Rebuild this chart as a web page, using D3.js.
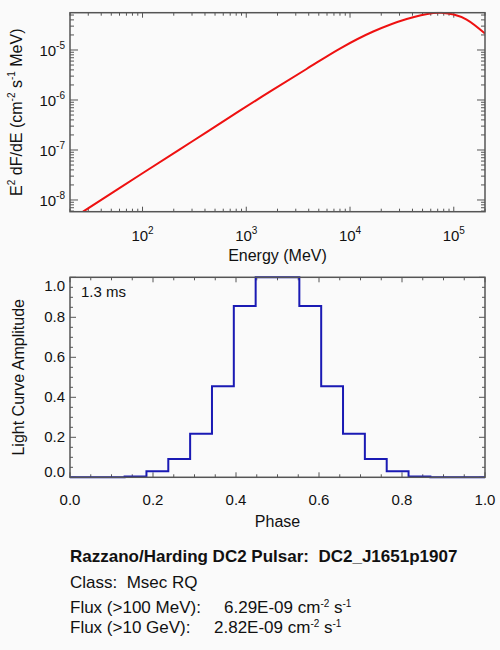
<!DOCTYPE html>
<html>
<head>
<meta charset="utf-8">
<script src="https://cdn.jsdelivr.net/npm/d3@7"></script>
<style>
  html, body { margin: 0; padding: 0; background: #fafafa; }
  svg { display: block; }
  text { font-family: "Liberation Sans", Arial, Helvetica, sans-serif; fill: #111; white-space: pre; }
</style>
</head>
<body>
<svg id="chart" width="500" height="650"></svg>
<script>
// ---------- Data ----------
// Spectrum: energy (MeV) and E^2 dF/dE (cm^-2 s^-1 MeV)
const energyMeV = [26.7, 100, 300, 867, 1815, 3811, 8000, 16750, 35200, 63400, 76000, 100000, 133000, 200000];
const e2dfde    = [5.83e-9, 3.42e-8, 1.48e-7, 6.11e-7, 1.61e-6, 4.17e-6, 1.07e-5, 2.34e-5, 4.17e-5, 5.50e-5, 5.57e-5, 5.13e-5, 4.07e-5, 2.14e-5];

// Light curve: phase bins (histogram centres) and amplitudes
const phase     = [0, 1/19, 2/19, 3/19, 4/19, 5/19, 6/19, 7/19, 8/19, 9/19, 10/19, 11/19, 12/19, 13/19, 14/19, 15/19, 16/19, 17/19, 18/19, 1];
const amplitude = [0, 0, 0, 0.004, 0.03, 0.092, 0.218, 0.455, 0.857, 1.0, 1.0, 0.857, 0.455, 0.218, 0.092, 0.03, 0.004, 0, 0, 0];

// Tick values
const specXMajor = [100, 1000, 10000, 100000];
const specXExp   = ["2", "3", "4", "5"];
const specYMajor = [1e-8, 1e-7, 1e-6, 1e-5];
const specYExp   = ["-8", "-7", "-6", "-5"];
const lcXMajor   = [0, 0.2, 0.4, 0.6, 0.8, 1.0];
const lcXLabels  = ["0.0", "0.2", "0.4", "0.6", "0.8", "1.0"];
const lcYMajor   = [0, 0.2, 0.4, 0.6, 0.8, 1.0];
const lcYLabels  = ["0.0", "0.2", "0.4", "0.6", "0.8", "1.0"];

const periodLabel = "1.3 ms";
const titleLine   = "Razzano/Harding DC2 Pulsar:  DC2_J1651p1907";
const classLine   = "Class:  Msec RQ";
const flux100     = "6.29E-09";
const flux10G     = "2.82E-09";

// ---------- Layout ----------
const svg = d3.select("#chart");
svg.append("rect").attr("width", 500).attr("height", 650).attr("fill", "#fafafa");
const axisColor = "#555";
const L = 70, R = 485;
const top1 = 12.7, bot1 = 211.7;
const top2 = 277.3, bot2 = 477.3;

// ---------- Spectrum panel ----------
const x1 = d3.scaleLog().domain([20, 2.0e5]).range([L, R]);
const y1 = d3.scaleLog().domain([5.83e-9, 5.57e-5]).range([bot1, top1]);

function logMinors(domain) {
  const out = [];
  const lo = Math.floor(Math.log10(domain[0])), hi = Math.ceil(Math.log10(domain[1]));
  for (let e = lo; e <= hi; e++) {
    for (let k = 2; k <= 9; k++) {
      const v = k * Math.pow(10, e);
      if (v >= domain[0] * 0.999 && v <= domain[1] * 1.001) out.push(v);
    }
  }
  return out;
}

svg.append("defs").append("clipPath").attr("id", "clip1")
  .append("rect").attr("x", L).attr("y", top1 - 1).attr("width", R - L).attr("height", bot1 - top1 + 1);

const g1 = svg.append("g");
function drawVTicks(g, vals, xs, yb, yt, len) {
  vals.forEach(v => {
    g.append("line").attr("x1", xs(v)).attr("x2", xs(v)).attr("y1", yb).attr("y2", yb - len)
      .attr("stroke", axisColor).attr("stroke-width", 1);
    g.append("line").attr("x1", xs(v)).attr("x2", xs(v)).attr("y1", yt).attr("y2", yt + len)
      .attr("stroke", axisColor).attr("stroke-width", 1);
  });
}
function drawHTicks(g, vals, ys, xl, xr, len) {
  vals.forEach(v => {
    g.append("line").attr("y1", ys(v)).attr("y2", ys(v)).attr("x1", xl).attr("x2", xl + len)
      .attr("stroke", axisColor).attr("stroke-width", 1);
    g.append("line").attr("y1", ys(v)).attr("y2", ys(v)).attr("x1", xr).attr("x2", xr - len)
      .attr("stroke", axisColor).attr("stroke-width", 1);
  });
}
drawVTicks(g1, specXMajor, x1, bot1, top1, 5);
drawVTicks(g1, logMinors(x1.domain()), x1, bot1, top1, 3);
drawHTicks(g1, specYMajor, y1, L, R, 8);
drawHTicks(g1, logMinors(y1.domain()), y1, L, R, 4);

const line1 = d3.line().x((d, i) => x1(energyMeV[i])).y((d, i) => y1(e2dfde[i])).curve(d3.curveCatmullRom.alpha(0.5));
g1.append("path").datum(e2dfde).attr("d", line1).attr("fill", "none")
  .attr("stroke", "#ee1111").attr("stroke-width", 2).attr("clip-path", "url(#clip1)");

g1.append("rect").attr("x", L).attr("y", top1).attr("width", R - L).attr("height", bot1 - top1)
  .attr("fill", "none").attr("stroke", axisColor).attr("stroke-width", 1.5);

specXMajor.forEach((v, i) => {
  const t = g1.append("text").attr("x", x1(v)).attr("y", bot1 + 29).attr("text-anchor", "middle")
    .style("font-size", "15px");
  t.append("tspan").text("10");
  t.append("tspan").attr("dy", -7).style("font-size", "10px").text(specXExp[i]);
});
specYMajor.forEach((v, i) => {
  const t = g1.append("text").attr("x", L - 5).attr("y", y1(v) + 6).attr("text-anchor", "end")
    .style("font-size", "15px");
  t.append("tspan").text("10");
  t.append("tspan").attr("dy", -7).style("font-size", "10px").text(specYExp[i]);
});
g1.append("text").attr("x", (L + R) / 2).attr("y", 261).attr("text-anchor", "middle")
  .style("font-size", "16px").text("Energy (MeV)");
{
  const t = g1.append("text").attr("transform", `translate(22,${(top1 + bot1) / 2}) rotate(-90)`)
    .attr("text-anchor", "middle").style("font-size", "16px");
  t.append("tspan").text("E");
  t.append("tspan").attr("dy", -7).style("font-size", "10px").text("2");
  t.append("tspan").attr("dy", 7).text(" dF/dE (cm");
  t.append("tspan").attr("dy", -7).style("font-size", "10px").text("-2");
  t.append("tspan").attr("dy", 7).text(" s");
  t.append("tspan").attr("dy", -7).style("font-size", "10px").text("-1");
  t.append("tspan").attr("dy", 7).text(" MeV)");
}

// ---------- Light-curve panel ----------
const x2 = d3.scaleLinear().domain([0, 1]).range([L, R]);
const y2 = d3.scaleLinear().domain([0, 1]).range([bot2, top2]);
const g2 = svg.append("g");

const lcXMinor = d3.range(0, 1.0001, 0.05).filter(v => lcXMajor.every(m => Math.abs(m - v) > 1e-6));
const lcYMinor = d3.range(0, 1.0001, 0.05).filter(v => lcYMajor.every(m => Math.abs(m - v) > 1e-6));
drawVTicks(g2, lcXMajor, x2, bot2, top2, 5);
drawVTicks(g2, lcXMinor, x2, bot2, top2, 3);
drawHTicks(g2, lcYMajor, y2, L, R, 6);
drawHTicks(g2, lcYMinor, y2, L, R, 3);

const line2 = d3.line().x((d, i) => x2(phase[i])).y(d => y2(d)).curve(d3.curveStep);
g2.append("path").datum(amplitude).attr("d", line2).attr("fill", "none")
  .attr("stroke", "#1a1ab4").attr("stroke-width", 2);

g2.append("rect").attr("x", L).attr("y", top2).attr("width", R - L).attr("height", bot2 - top2)
  .attr("fill", "none").attr("stroke", axisColor).attr("stroke-width", 1.5);

lcXMajor.forEach((v, i) => {
  g2.append("text").attr("x", x2(v)).attr("y", bot2 + 28).attr("text-anchor", "middle")
    .style("font-size", "15px").text(lcXLabels[i]);
});
lcYMajor.forEach((v, i) => {
  let yy = y2(v) + 5;
  if (v === 1.0) yy = y2(v) + 14;
  if (v === 0) yy = y2(v);
  g2.append("text").attr("x", L - 5).attr("y", yy).attr("text-anchor", "end")
    .style("font-size", "15px").text(lcYLabels[i]);
});
g2.append("text").attr("x", (L + R) / 2).attr("y", 527).attr("text-anchor", "middle")
  .style("font-size", "16px").text("Phase");
g2.append("text").attr("transform", `translate(24,${(top2 + bot2) / 2}) rotate(-90)`)
  .attr("text-anchor", "middle").style("font-size", "16px").text("Light Curve Amplitude");
g2.append("text").attr("x", 81).attr("y", 297).style("font-size", "15px").text(periodLabel);

// ---------- Info text ----------
const info = svg.append("g");
info.append("text").attr("x", 70).attr("y", 562).style("font-size", "17px").style("font-weight", "bold")
  .text(titleLine);
info.append("text").attr("x", 70).attr("y", 588).style("font-size", "17px").text(classLine);

function fluxLine(y, label, valX, val) {
  const t = info.append("text").attr("x", 70).attr("y", y).style("font-size", "17px");
  t.append("tspan").text(label);
  t.append("tspan").attr("x", valX).text(val + " cm");
  t.append("tspan").attr("dy", -6).style("font-size", "10px").text("-2");
  t.append("tspan").attr("dy", 6).text(" s");
  t.append("tspan").attr("dy", -6).style("font-size", "10px").text("-1");
}
fluxLine(613, "Flux (>100 MeV):", 224, flux100);
fluxLine(633, "Flux (>10 GeV):", 214, flux10G);
</script>
</body>
</html>
